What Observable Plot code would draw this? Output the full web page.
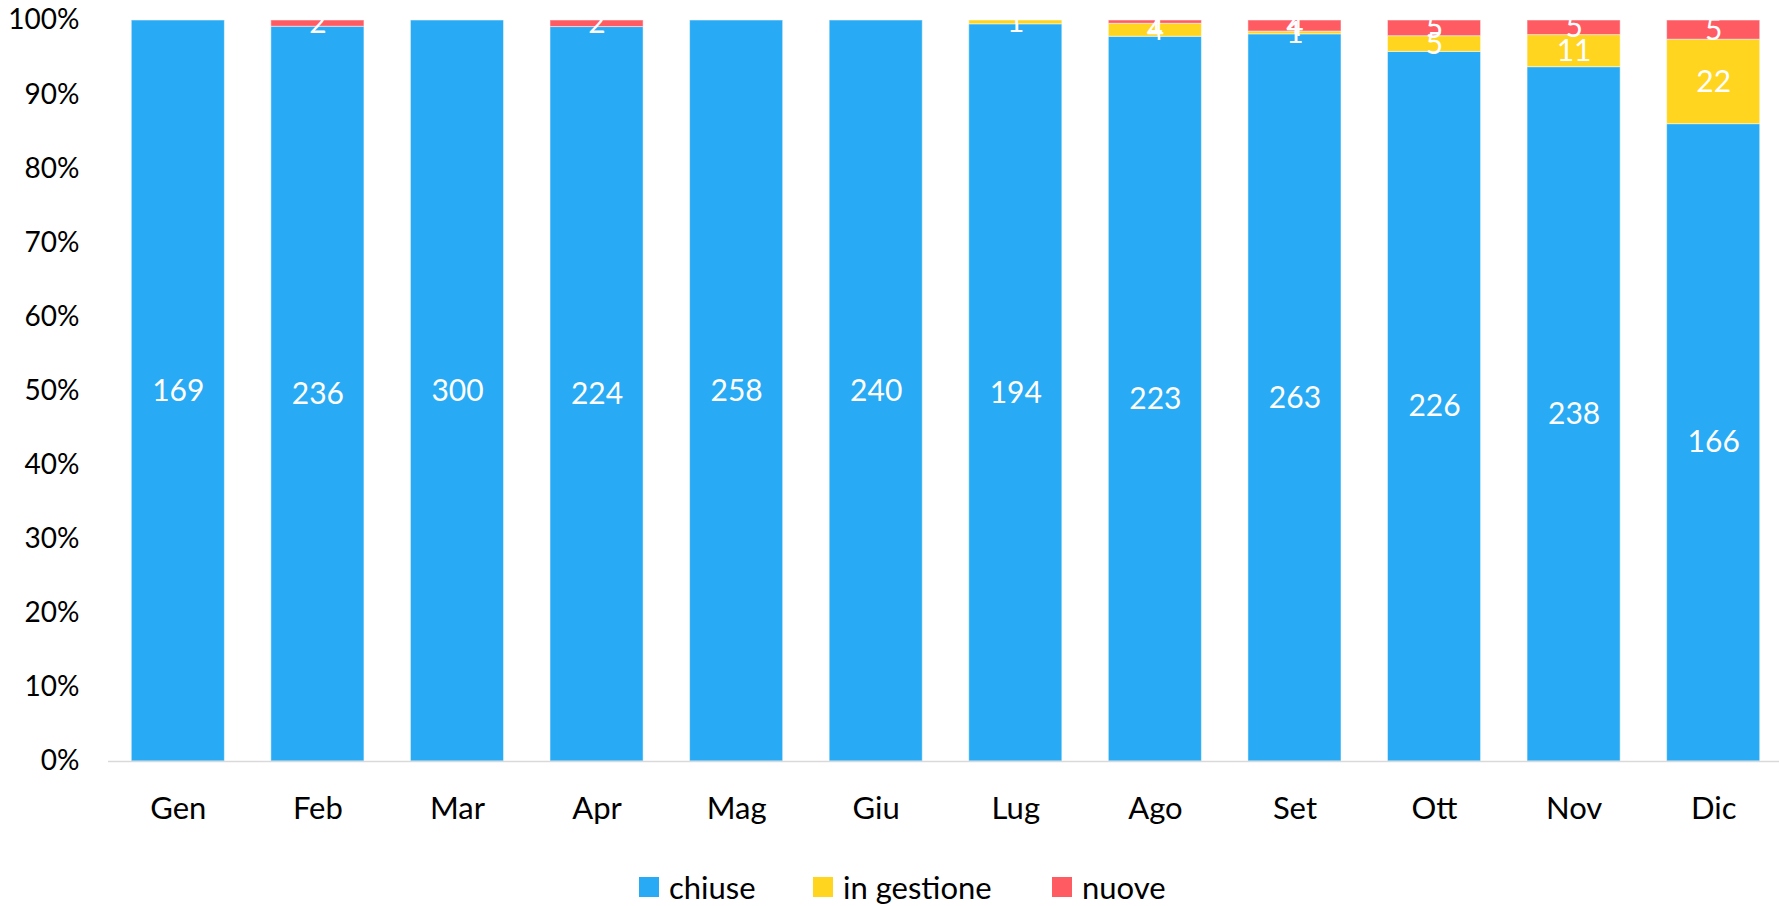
<!DOCTYPE html>
<html>
<head>
<meta charset="utf-8">
<script src="https://cdn.jsdelivr.net/npm/d3@7"></script>
<script src="https://cdn.jsdelivr.net/npm/@observablehq/plot@0.6"></script>
<style>
  html, body { margin: 0; padding: 0; background: #fff; }
  #wrap { position: relative; width: 1779px; height: 906px; font-family: Lato, "Open Sans", sans-serif; }
  #wrap svg { display: block; }
  .leg { position: absolute; top: 877px; height: 20px; display: flex; align-items: center; font-size: 31px; line-height: 1; color: #000; white-space: nowrap; }
  .leg span.sw { display: inline-block; width: 20px; height: 20px; margin-right: 10px; }
</style>
</head>
<body>
<div id="wrap"></div>
<script>
const months = ["Gen","Feb","Mar","Apr","Mag","Giu","Lug","Ago","Set","Ott","Nov","Dic"];
const seriesNames = ["chiuse","in gestione","nuove"];
const seriesColors = ["#28ABF4","#FFD520","#FF5B62"];
const chiuse     = [169,236,300,224,258,240,194,223,263,226,238,166];
const inGestione = [0,0,0,0,0,0,1,4,1,5,11,22];
const nuove      = [0,2,0,2,0,0,0,1,4,5,5,5];
const yTicks = [0,0.1,0.2,0.3,0.4,0.5,0.6,0.7,0.8,0.9,1];

const seriesValues = [chiuse, inGestione, nuove];
const data = [];
months.forEach((m, i) => {
  seriesNames.forEach((s, j) => {
    data.push({month: m, series: s, value: seriesValues[j][i]});
  });
});
const nonZero = data.filter(d => d.value > 0);

const font = 'Lato, "Open Sans", sans-serif';

const chart = Plot.plot({
  width: 1779,
  height: 845,
  marginTop: 20,
  marginBottom: 84,
  marginLeft: 108,
  marginRight: -4,
  style: {fontFamily: font, fontSize: "28px", color: "#000", background: "#fff"},
  x: {domain: months, paddingInner: 0.333, paddingOuter: 0.1667, round: false, label: null},
  y: {domain: [0, 1], label: null},
  color: {domain: seriesNames, range: seriesColors},
  marks: [
    Plot.barY(nonZero, Plot.stackY({
      x: "month", y: "value", z: "series", fill: "series",
      offset: "normalize", order: seriesNames,
      stroke: "#ffffff", strokeOpacity: 0.5, strokeWidth: 1
    })),
    Plot.ruleY([0], {stroke: "#d9d9d9", strokeWidth: 1.5}),
    Plot.axisX({tickSize: 0, tickPadding: 35, fontSize: 31, label: null}),
    Plot.axisY({ticks: yTicks, tickFormat: d => Math.round(d * 100) + "%", tickSize: 0, tickPadding: 29, fontSize: 28, label: null}),
    Plot.text(nonZero, Plot.stackY({
      x: "month", y: "value", z: "series",
      offset: "normalize", order: seriesNames,
      text: d => String(d.value),
      fill: "#ffffff", fontSize: 30, clip: true
    }))
  ]
});

const wrap = document.getElementById("wrap");
wrap.appendChild(chart);

const legendX = [639, 813, 1052];
seriesNames.forEach((s, i) => {
  const item = document.createElement("div");
  item.className = "leg";
  item.style.left = legendX[i] + "px";
  const sw = document.createElement("span");
  sw.className = "sw";
  sw.style.background = seriesColors[i];
  item.appendChild(sw);
  const t = document.createElement("span");
  t.textContent = s;
  item.appendChild(t);
  wrap.appendChild(item);
});
</script>
</body>
</html>
